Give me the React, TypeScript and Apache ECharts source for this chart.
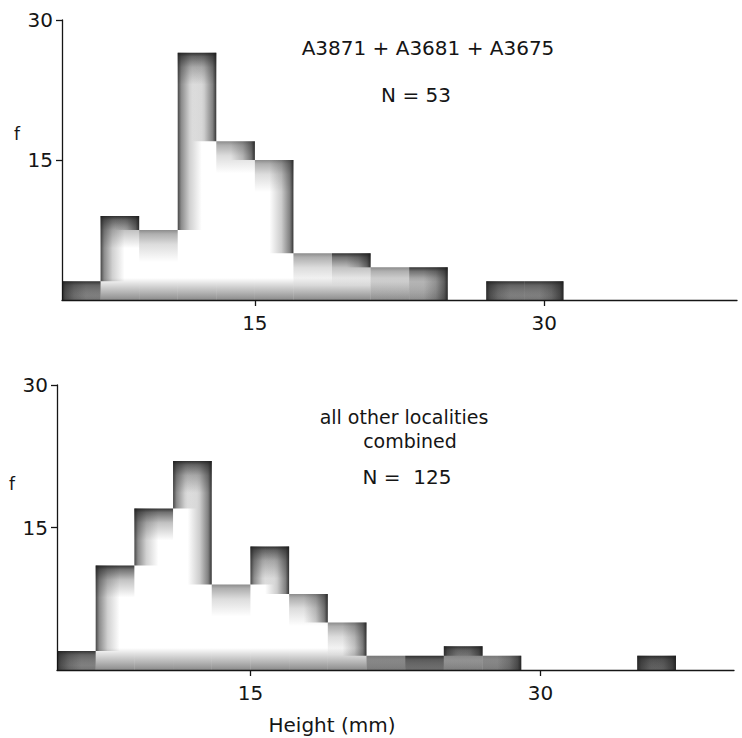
import React, { useEffect, useRef } from "react";
import * as echarts from "echarts";

// ---- data ----
const BIN_WIDTH = 2; // mm
const topBinStarts = [5, 7, 9, 11, 13, 15, 17, 19, 21, 23, 25, 27, 29];
const topFreq = [2, 9, 7.5, 26.5, 17, 15, 5, 5, 3.5, 3.5, 0, 2, 2];
const bottomBinStarts = [5, 7, 9, 11, 13, 15, 17, 19, 21, 23, 25, 27, 29, 31, 33, 35];
const bottomFreq = [2, 11, 17, 22, 9, 13, 8, 5, 1.5, 1.5, 2.5, 1.5, 0, 0, 0, 1.5];
const xTickValues = [15, 30];
const yTickValues = [15, 30];
const topTitle = "A3871 + A3681 + A3675";
const topN = "N = 53";
const bottomTitle1 = "all other localities";
const bottomTitle2 = "combined";
const bottomN = "N =  125";
const xAxisName = "Height (mm)";
const yAxisName = "f";

const FONT = '"DejaVu Sans", "Noto Sans", sans-serif';
const INK = "#151515";

function buildRows(starts: number[], freq: number[]) {
  return starts.map((s, i) => [
    s,
    s + BIN_WIDTH,
    freq[i],
    i > 0 ? freq[i - 1] : 0,
    i < freq.length - 1 ? freq[i + 1] : 0,
  ]);
}

const TOP_D = 32; // depth of the top shading band (px)
const SIDE_W = 24; // width of side shading (px)
const BOT_B = 22; // height of bottom shading (px)

function rgba(a: number) {
  return `rgba(25,25,25,${a.toFixed(3)})`;
}

function renderBin(params: any, api: any) {
  const start = api.value(0);
  const end = api.value(1);
  const h = api.value(2);
  const prev = api.value(3);
  const next = api.value(4);
  if (!(h > 0)) return { type: "group", children: [] };
  const [x0, yTop] = api.coord([start, h]);
  const [x1, yBase] = api.coord([end, 0]);
  const w = x1 - x0;
  const H = yBase - yTop;
  const children: any[] = [];

  // bottom band
  const bb = Math.min(BOT_B, H);
  children.push({
    type: "rect",
    shape: { x: x0, y: yBase - bb, width: w, height: bb },
    style: {
      fill: new echarts.graphic.LinearGradient(
        0, yBase, 0, yBase - BOT_B,
        [
          { offset: 0, color: rgba(0.5) },
          { offset: 0.5, color: rgba(0.25) },
          { offset: 1, color: rgba(0) },
        ],
        true
      ),
    },
  });

  // top band
  const recessed = prev > h;
  const topAlpha = recessed ? 0.5 : 0.88;
  children.push({
    type: "rect",
    shape: { x: x0, y: yTop, width: w, height: Math.min(TOP_D, H) },
    style: {
      fill: new echarts.graphic.LinearGradient(
        0, yTop, 0, yTop + TOP_D,
        [
          { offset: 0, color: rgba(topAlpha) },
          { offset: 0.12, color: rgba(topAlpha * 0.7) },
          { offset: 0.45, color: rgba(topAlpha * 0.3) },
          { offset: 1, color: rgba(0) },
        ],
        true
      ),
    },
  });

  // left side band
  if (prev < h) {
    const yLow = api.coord([start, prev])[1];
    const sw = Math.min(SIDE_W, w);
    children.push({
      type: "rect",
      shape: { x: x0, y: yTop, width: sw, height: yLow - yTop },
      style: {
        fill: new echarts.graphic.LinearGradient(
          x0, 0, x0 + SIDE_W, 0,
          [
            { offset: 0, color: rgba(0.8) },
            { offset: 0.15, color: rgba(0.5) },
            { offset: 0.5, color: rgba(0.2) },
            { offset: 1, color: rgba(0) },
          ],
          true
        ),
      },
    });
  }
  // right side band
  if (next < h) {
    const yLow = api.coord([end, next])[1];
    const sw = Math.min(SIDE_W, w);
    children.push({
      type: "rect",
      shape: { x: x1 - sw, y: yTop, width: sw, height: yLow - yTop },
      style: {
        fill: new echarts.graphic.LinearGradient(
          x1, 0, x1 - SIDE_W, 0,
          [
            { offset: 0, color: rgba(0.88) },
            { offset: 0.15, color: rgba(0.55) },
            { offset: 0.5, color: rgba(0.22) },
            { offset: 1, color: rgba(0) },
          ],
          true
        ),
      },
    });
  }
  return { type: "group", children };
}

function xAxisCfg(gridIndex: number) {
  return {
    type: "value",
    gridIndex,
    min: 5,
    max: 40,
    axisLine: { show: true, onZero: false, lineStyle: { color: INK, width: 1.3 } },
    axisTick: {
      show: true,
      length: 6,
      inside: false,
      customValues: xTickValues,
      lineStyle: { color: INK, width: 1.3 },
    },
    axisLabel: {
      show: true,
      customValues: xTickValues,
      margin: 13,
      fontSize: 20,
      fontFamily: FONT,
      color: INK,
    },
    splitLine: { show: false },
    z: 5,
  };
}

function yAxisCfg(gridIndex: number) {
  return {
    type: "value",
    gridIndex,
    min: 0,
    max: 30,
    axisLine: { show: true, onZero: false, lineStyle: { color: INK, width: 1.3 } },
    axisTick: {
      show: true,
      length: 6,
      customValues: yTickValues,
      lineStyle: { color: INK, width: 1.3 },
    },
    axisLabel: {
      show: true,
      customValues: yTickValues,
      margin: 9,
      fontSize: 20,
      fontFamily: FONT,
      color: INK,
    },
    splitLine: { show: false },
    z: 5,
  };
}

function textEl(text: string, x: number, y: number, size = 20, align = "center") {
  return {
    type: "text",
    x,
    y,
    style: {
      text,
      fill: INK,
      font: `${size}px ${FONT}`,
      textAlign: align,
      textVerticalAlign: "middle",
    },
  };
}

export default function App() {
  const ref = useRef<HTMLDivElement>(null);
  useEffect(() => {
    if (!ref.current) return;
    const chart = echarts.init(ref.current, null, { renderer: "svg" });
    chart.setOption({
      animation: false,
      backgroundColor: "#ffffff",
      grid: [
        { left: 62, top: 20, width: 675, height: 280 },
        { left: 57, top: 385, width: 677, height: 285 },
      ],
      xAxis: [xAxisCfg(0), xAxisCfg(1)],
      yAxis: [yAxisCfg(0), yAxisCfg(1)],
      series: [
        {
          type: "custom",
          xAxisIndex: 0,
          yAxisIndex: 0,
          renderItem: renderBin,
          encode: { x: [0, 1], y: 2 },
          data: buildRows(topBinStarts, topFreq),
          z: 2,
        },
        {
          type: "custom",
          xAxisIndex: 1,
          yAxisIndex: 1,
          renderItem: renderBin,
          encode: { x: [0, 1], y: 2 },
          data: buildRows(bottomBinStarts, bottomFreq),
          z: 2,
        },
      ],
      graphic: [
        textEl(topTitle, 428, 48),
        textEl(topN, 416, 95),
        textEl(bottomTitle1, 404, 417, 19),
        textEl(bottomTitle2, 410, 441, 19),
        textEl(bottomN, 407, 477),
        textEl(xAxisName, 332, 725),
        textEl(yAxisName, 17, 134, 17),
        textEl(yAxisName, 12, 484, 17),
      ],
    });
    return () => chart.dispose();
  }, []);
  return (
    <div
      ref={ref}
      style={{ position: "fixed", left: 0, top: 0, width: 742, height: 738, background: "#fff" }}
    />
  );
}
